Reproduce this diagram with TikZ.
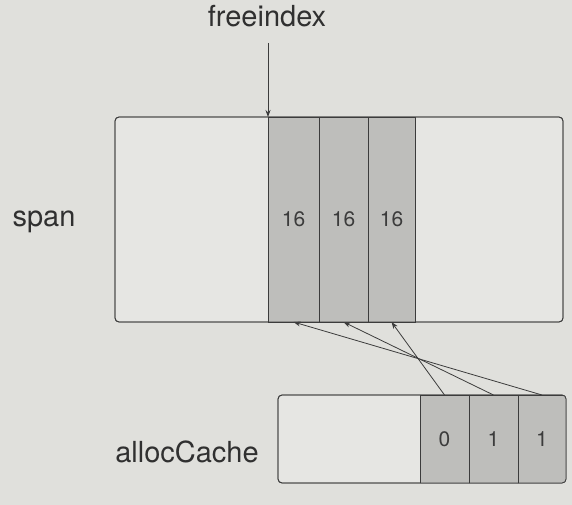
\documentclass[tikz,border=0pt]{standalone}
\usepackage{fontspec}
\setmainfont{TeX Gyre Heros}
\usetikzlibrary{arrows.meta}
\definecolor{paper}{RGB}{224,224,220}
\definecolor{boxfill}{RGB}{230,230,227}
\definecolor{shade}{RGB}{190,190,187}
\definecolor{ink}{RGB}{60,60,60}
\tikzset{
  bigbox/.style={draw=ink, line width=0.8pt, fill=boxfill, rounded corners=4pt, inner sep=0pt, outer sep=0pt, anchor=north west},
  cellbox/.style={draw=ink, line width=0.8pt, fill=shade, inner sep=0pt, outer sep=0pt, anchor=north west, font=\fontsize{21}{22}\selectfont, text=ink},
  lbl/.style={font=\fontsize{29}{31}\selectfont, text=ink!80!black, inner sep=0pt},
  conn/.style={draw=ink, line width=0.8pt, -{Stealth[length=7pt,width=5pt]}}
}
\begin{document}
\begin{tikzpicture}[x=1pt,y=-1pt]
\useasboundingbox[fill=paper] (0,0) rectangle (572,505);
% labels
\node[lbl] (fi) at (267,16) {freeindex};
\node[lbl] (spanlbl) at (44,222) {span};
\node[lbl] (aclbl) at (187,452) {allocCache};
% span box
\node[bigbox, minimum width=448pt, minimum height=205pt] (span) at (115,117) {};
\node[cellbox, minimum width=51pt, minimum height=205pt] (c1) at (268,117) {16};
\node[cellbox, minimum width=49pt, minimum height=205pt] (c2) at (319,117) {16};
\node[cellbox, minimum width=47pt, minimum height=205pt] (c3) at (368,117) {16};
\draw[draw=ink, line width=0.8pt, rounded corners=4pt] (span.north west) rectangle (span.south east);
% allocCache box
\node[bigbox, minimum width=288pt, minimum height=88pt] (ac) at (278,395) {};
\begin{scope}
\clip[rounded corners=4pt] (ac.north west) rectangle (ac.south east);
\node[cellbox, minimum width=49pt, minimum height=88pt] (a1) at (420,395) {0};
\node[cellbox, minimum width=49pt, minimum height=88pt] (a2) at (469,395) {1};
\node[cellbox, minimum width=48pt, minimum height=88pt] (a3) at (518,395) {1};
\end{scope}
\draw[draw=ink, line width=0.8pt, rounded corners=4pt] (ac.north west) rectangle (ac.south east);
% freeindex arrow
\coordinate (fstart) at (268,43);
\draw[conn] (fstart) -- (c1.north west);
% cache to span arrows
\draw[conn] (a1.north) -- (c3.south);
\draw[conn] (a2.north) -- (c2.south);
\draw[conn] (a3.north) -- (c1.south);
\end{tikzpicture}
\end{document}
